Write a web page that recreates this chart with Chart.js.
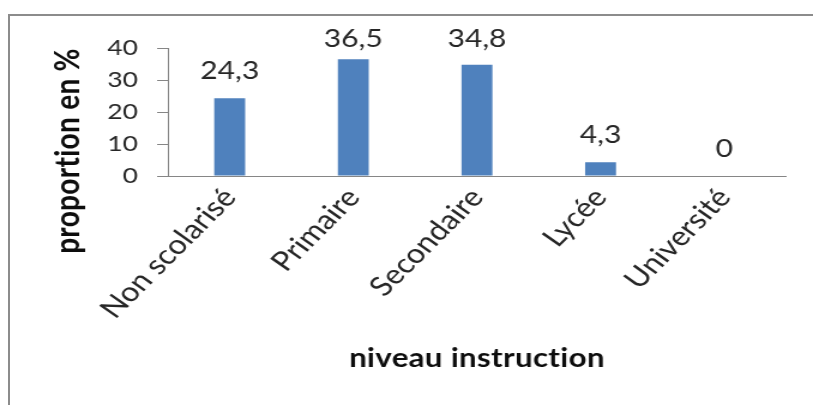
<!DOCTYPE html>
<html>
<head>
<meta charset="utf-8">
<script src="https://cdn.jsdelivr.net/npm/chart.js@4"></script>
<style>
  html, body { margin: 0; padding: 0; background: #fff; overflow: hidden; width: 813px; height: 405px; }
  #frame {
    position: absolute; left: 8px; top: 14px; width: 830px; height: 420px;
    border-top: 2px solid #8c8c8c; border-left: 2px solid #8c8c8c;
  }
  /* the chart is laid out on a narrower canvas and widened to the full page */
  #wrap {
    position: absolute; left: 0; top: 0; width: 678px; height: 405px;
    transform: scaleX(1.1991); transform-origin: 0 0;
  }
</style>
</head>
<body>
<div id="frame"></div>
<div id="wrap"><canvas id="c" width="678" height="405"></canvas></div>
<script>
// Niveau d'instruction : proportions en %
const categories = ['Non scolarisé', 'Primaire', 'Secondaire', 'Lycée', 'Université'];
const proportions = [24.3, 36.5, 34.8, 4.3, 0];
const yTicks = [0, 10, 20, 30, 40];
const xTitle = 'niveau instruction';
const yTitle = 'proportion en %';

const FONT = 'Lato, "Open Sans", sans-serif';
const TEXT = '#262626';
const AXIS = '#868686';

const fmt = v => String(v).replace('.', ',');

// value labels above each bar, kept inside the drawing frame
const barValueLabels = {
  id: 'barValueLabels',
  afterDatasetsDraw(chart) {
    const ctx = chart.ctx;
    const meta = chart.getDatasetMeta(0);
    const values = chart.data.datasets[0].data;
    ctx.save();
    ctx.font = '25px ' + FONT;
    ctx.fillStyle = TEXT;
    ctx.textAlign = 'center';
    ctx.textBaseline = 'alphabetic';
    meta.data.forEach((bar, i) => {
      const y = Math.max(bar.y - 19, 47);
      ctx.fillText(fmt(values[i]), bar.x, y);
    });
    ctx.restore();
  }
};

// axis titles (a touch of letter spacing keeps "ti" from joining)
const axisTitles = {
  id: 'axisTitles',
  afterDraw(chart) {
    const ctx = chart.ctx;
    const area = chart.chartArea;
    ctx.save();
    ctx.fillStyle = '#0d0d0d';
    if ('letterSpacing' in ctx) ctx.letterSpacing = '0.3px';
    ctx.font = 'bold 26px ' + FONT;
    ctx.textAlign = 'center';
    ctx.textBaseline = 'alphabetic';
    ctx.fillText(xTitle, (area.left + area.right) / 2, 367);
    ctx.font = 'bold 28px ' + FONT;
    ctx.translate(57, 151);
    ctx.rotate(-Math.PI / 2);
    ctx.textBaseline = 'middle';
    ctx.fillText(yTitle, 0, 0);
    ctx.restore();
  }
};

new Chart(document.getElementById('c'), {
  type: 'bar',
  data: {
    labels: categories,
    datasets: [{
      data: proportions,
      backgroundColor: '#4F81BD',
      borderWidth: 0,
      barPercentage: 0.25,
      categoryPercentage: 1
    }]
  },
  options: {
    responsive: false,
    animation: false,
    layout: { padding: { top: 48, right: 22.5, left: 0, bottom: 0 } },
    plugins: { legend: { display: false }, tooltip: { enabled: false } },
    scales: {
      x: {
        ticks: {
          font: { family: FONT, size: 27 },
          color: TEXT,
          minRotation: 50,
          maxRotation: 50,
          autoSkip: false,
          padding: 6
        },
        grid: { display: false, drawTicks: false },
        border: { display: true, color: AXIS, width: 1 },
        afterFit(s) { s.height = 405 - 176; }
      },
      y: {
        min: 0,
        max: 40,
        afterBuildTicks(s) { s.ticks = yTicks.map(v => ({ value: v })); },
        ticks: {
          font: { family: FONT, size: 22 },
          color: TEXT,
          padding: 16
        },
        grid: { display: true, drawOnChartArea: false, drawTicks: true, tickLength: 9, color: AXIS, lineWidth: 1 },
        border: { display: true, color: AXIS, width: 1 },
        afterFit(s) { s.width = 140; }
      }
    }
  },
  plugins: [barValueLabels, axisTitles]
});
</script>
</body>
</html>
